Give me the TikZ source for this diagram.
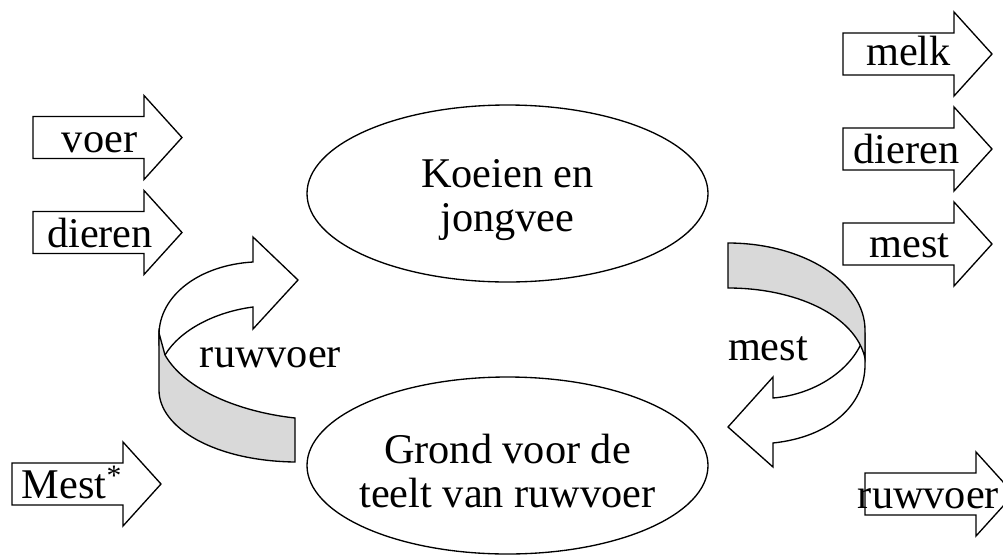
\documentclass[tikz,border=0pt]{standalone}
\usepackage{fontspec}
\setmainfont{Liberation Serif}
\usetikzlibrary{shapes.geometric}
\begin{document}
\begin{tikzpicture}[x=0.75pt,y=-0.75pt]
    \tikzstyle{pijl}=[draw=black, fill=white, line width=1pt, line join=miter]
    \tikzstyle{band}=[draw=black, fill=gray!30, line width=1pt]
    \tikzstyle{lbl}=[inner sep=0pt, font=\fontsize{31.75}{33}\selectfont]
    \tikzstyle{ovaal}=[ellipse, draw=black, line width=1pt, minimum width=300.75pt, minimum height=132.75pt, inner sep=0pt]
    \useasboundingbox (0,0) rectangle (1003,554);
    % blokpijlen
    \foreach \x/\y in {33/137.5, 33/232.5, 12/484, 843/54, 843/149, 843/244, 865/494}
      \draw[pijl] (\x,\y-21) -- ++(111,0) -- ++(0,-21) -- ++(38,42) -- ++(-38,42) -- ++(0,-21) -- ++(-111,0) -- cycle;
    \node[lbl, anchor=base] (voer) at (99.5,152) {voer};
    \node[lbl, anchor=base] (dierenin) at (100,247) {dieren};
    \node[lbl, anchor=base] (mestin) at (72,498) {Mest\textsuperscript{*}};
    \node[lbl, anchor=base] (melk) at (908.5,65) {melk};
    \node[lbl, anchor=base] (dierenuit) at (906.5,163) {dieren};
    \node[lbl, anchor=base] (mestuit) at (909.5,257) {mest};
    \node[lbl, anchor=base] (ruwvoeruit) at (928.5,508) {ruwvoer};
    % ovalen
    \node[ovaal] (koeien) at (507.5,193.5) {};
    \node[lbl, align=center] (koeientxt) at (507.5,200) {Koeien en\\jongvee};
    \node[ovaal] (grond) at (507.5,465.5) {};
    \node[lbl, align=center] (grondtxt) at (507.5,471.5) {Grond voor de\\teelt van ruwvoer};
    % kringloop
    \draw[pijl] (159,345) -- (159,335) .. controls (159,295) and (200,265) .. (253,262) -- (253,237) -- (298,280) -- (253,329) -- (253,307) .. controls (215,312) and (180,330) .. (165,355) -- cycle;
    \draw[band] (159,333) -- (159,390) .. controls (159,428) and (215,461) .. (295,462) -- (295,418) .. controls (240,412) and (185,390) .. (165,355) -- cycle;
    \draw[pijl] (865,335) -- (865,365) .. controls (865,405) and (830,437) .. (773,443) -- (773,467) -- (728,427) -- (773,377) -- (773,398) .. controls (810,395) and (845,375) .. (860,346) -- cycle;
    \draw[band] (728,243) .. controls (803,243) and (865,282) .. (865,330) -- (865,358) .. controls (855,315) and (795,288) .. (728,288) -- cycle;
    \node[lbl, anchor=base] (ruwvoerlbl) at (270.5,367) {ruwvoer};
    \node[lbl, anchor=base] (mestlbl) at (768,360) {mest};
    %\draw (koeien) -- (grond);
\end{tikzpicture}
\end{document}
